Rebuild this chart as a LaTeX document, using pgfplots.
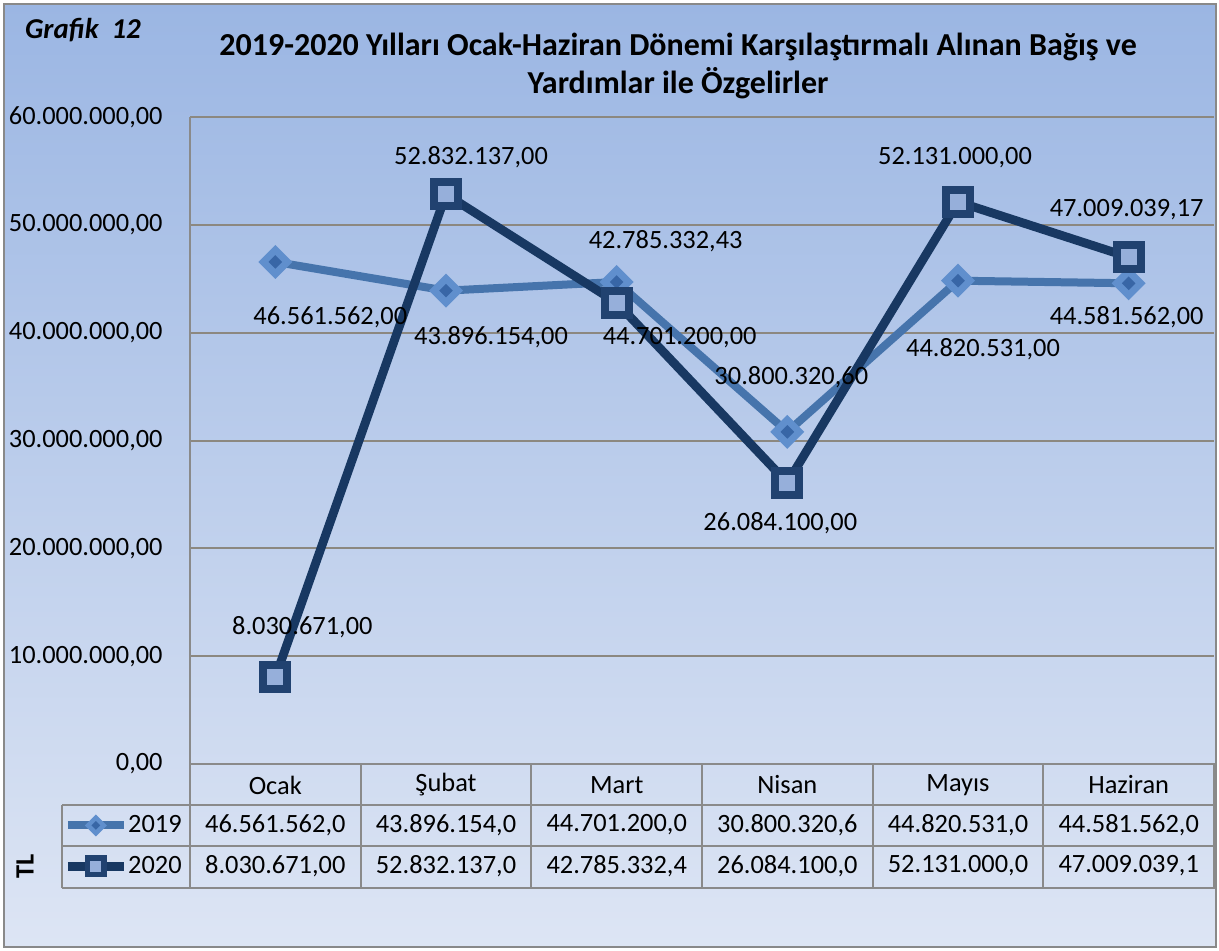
\documentclass[border=0pt]{standalone}
\usepackage{fontspec}
\setmainfont{Carlito}
\usepackage{pgfplots}
\pgfplotsset{compat=1.18}

\definecolor{bgtop}{RGB}{155,182,227}
\definecolor{bgbot}{RGB}{221,229,244}
\definecolor{framec}{RGB}{137,137,137}
\definecolor{gridc}{RGB}{140,136,128}
\definecolor{tblc}{RGB}{138,138,138}
\definecolor{c19}{RGB}{70,116,172}
\definecolor{c20}{RGB}{24,56,98}
\definecolor{diaA}{RGB}{96,143,205}
\definecolor{diaB}{RGB}{56,102,166}
\definecolor{sqA}{RGB}{33,66,112}
\definecolor{sqB}{RGB}{150,175,218}

% diamond with darker centre
\pgfdeclareplotmark{bevdia}{%
  \pgfpathmoveto{\pgfqpoint{0pt}{\pgfplotmarksize}}%
  \pgfpathlineto{\pgfqpoint{\pgfplotmarksize}{0pt}}%
  \pgfpathlineto{\pgfqpoint{0pt}{-\pgfplotmarksize}}%
  \pgfpathlineto{\pgfqpoint{-\pgfplotmarksize}{0pt}}%
  \pgfpathclose
  \pgfsetfillcolor{diaA}\pgfusepathqfill
  \pgfpathmoveto{\pgfqpoint{0pt}{0.4\pgfplotmarksize}}%
  \pgfpathlineto{\pgfqpoint{0.4\pgfplotmarksize}{0pt}}%
  \pgfpathlineto{\pgfqpoint{0pt}{-0.4\pgfplotmarksize}}%
  \pgfpathlineto{\pgfqpoint{-0.4\pgfplotmarksize}{0pt}}%
  \pgfpathclose
  \pgfsetfillcolor{diaB}\pgfusepathqfill
}
% bevelled square
\pgfdeclareplotmark{bevsq}{%
  \pgfpathrectangle{\pgfqpoint{-\pgfplotmarksize}{-\pgfplotmarksize}}{\pgfqpoint{2\pgfplotmarksize}{2\pgfplotmarksize}}%
  \pgfsetfillcolor{sqA}\pgfusepathqfill
  \pgfpathrectangle{\pgfqpoint{-0.5\pgfplotmarksize}{-0.5\pgfplotmarksize}}{\pgfqpoint{\pgfplotmarksize}{\pgfplotmarksize}}%
  \pgfsetfillcolor{sqB}\pgfusepathqfill
}

\newcommand\fs{\fontsize{13.2}{15}\selectfont}

\begin{document}
\begin{tikzpicture}
\begin{scope}[x=0.5pt,y=-0.5pt]
  \useasboundingbox (0,0) rectangle (1219,951);
  \fill[white] (0,0) rectangle (1219,951);
  \shade[top color=bgtop,bottom color=bgbot] (4,4) rectangle (1216,947);
  \draw[framec,line width=1pt] (4,4) rectangle (1216,947);
  \node[font=\bfseries\itshape\fontsize{14.4}{16}\selectfont] at (83,30) {Grafik\ \ 12};
  \node[font=\bfseries\fontsize{16}{18}\selectfont] at (678,47) {2019-2020 Yılları Ocak-Haziran Dönemi Karşılaştırmalı Alınan Bağış ve};
  \node[font=\bfseries\fontsize{16}{18}\selectfont] at (678,83) {Yardımlar ile Özgelirler};
  \node[font=\bfseries\fs,rotate=90] at (25,866) {TL};
\end{scope}

\begin{pgfinterruptboundingbox}
\begin{axis}[
    at={(95pt,-382pt)}, anchor=south west,
    scale only axis, width=512pt, height=323.5pt,
    xmin=0.5, xmax=6.5, ymin=0, ymax=60000000,
    xtick=\empty,
    scaled y ticks=false,
    ytick={0,10000000,20000000,30000000,40000000,50000000,60000000},
    yticklabels={{0,00},{10.000.000,00},{20.000.000,00},{30.000.000,00},{40.000.000,00},{50.000.000,00},{60.000.000,00}},
    yticklabel style={font=\fs,inner sep=0pt,xshift=-13.5pt},
    major tick length=0pt,
    ymajorgrids, grid style={gridc,line width=1pt},
    axis lines*=left, axis line style={tblc,line width=1pt},
    clip=false,
    legend cell align=left,
    legend style={at={(-0.1240,-0.0773)}, anchor=north west, draw=none, fill=none,
      font=\fs, inner sep=0pt, row sep=9.5pt, column sep=0pt,
      nodes={inner sep=0pt}},
    legend image code/.code={\draw[mark repeat=2,mark phase=2,mark size=5.5pt]
      plot coordinates {(0pt,0pt) (14pt,0pt) (28pt,0pt)};},
]
\addplot[c19, line width=4pt, line join=round, mark=bevdia, mark size=8.5pt]
  coordinates {(1,46561562) (2,43896154) (3,44701200) (4,30800320.6) (5,44820531) (6,44581562)};
\addlegendentry{2019}
\addplot[c20, line width=4.4pt, line join=round, mark=bevsq, mark size=8pt]
  coordinates {(1,8030671) (2,52832137) (3,42785332.43) (4,26084100) (5,52131000) (6,47009039.17)};
\addlegendentry{2020}

\tikzset{lab/.style={font=\fs,inner sep=0pt}}
\node[lab,xshift=27.5pt,yshift=-27.5pt] at (axis cs:1,46561562) {46.561.562,00};
\node[lab,xshift=22.5pt,yshift=-23.5pt] at (axis cs:2,43896154) {43.896.154,00};
\node[lab,xshift=31.5pt,yshift=-28pt] at (axis cs:3,44701200) {44.701.200,00};
\node[lab,xshift=2pt,yshift=27.5pt] at (axis cs:4,30800320.6) {30.800.320,60};
\node[lab,xshift=12.5pt,yshift=-34pt] at (axis cs:5,44820531) {44.820.531,00};
\node[lab,xshift=-1pt,yshift=-17pt] at (axis cs:6,44581562) {44.581.562,00};
\node[lab,xshift=13.5pt,yshift=25pt] at (axis cs:1,8030671) {8.030.671,00};
\node[lab,xshift=12.5pt,yshift=18.5pt] at (axis cs:2,52832137) {52.832.137,00};
\node[lab,xshift=24.5pt,yshift=30.5pt] at (axis cs:3,42785332.43) {42.785.332,43};
\node[lab,xshift=-3.5pt,yshift=-20pt] at (axis cs:4,26084100) {26.084.100,00};
\node[lab,xshift=-1.5pt,yshift=22pt] at (axis cs:5,52131000) {52.131.000,00};
\node[lab,xshift=-1pt,yshift=23.5pt] at (axis cs:6,47009039.17) {47.009.039,17};
\end{axis}
\end{pgfinterruptboundingbox}

% data table under the plot
\begin{scope}[x=0.5pt,y=-0.5pt]
  \draw[tblc,line width=1pt] (190,764) -- (1215,764);
  \draw[tblc,line width=1pt] (62,805) -- (1215,805);
  \draw[tblc,line width=1pt] (62,846) -- (1215,846);
  \draw[tblc,line width=1pt] (62,888) -- (1215,888);
  \draw[tblc,line width=1pt] (62,805) -- (62,888);
  \draw[tblc,line width=1pt] (190,117) -- (190,888);
  \foreach \xx in {360.7,531.3,702,872.7,1043.3,1214}
    \draw[tblc,line width=1pt] (\xx,764) -- (\xx,888);
  \tikzset{tt/.style={font=\fs}}
  \node[tt] at (275.3,785) {Ocak};
  \node[tt] at (446,785) {Şubat};
  \node[tt] at (616.7,785) {Mart};
  \node[tt] at (787.3,785) {Nisan};
  \node[tt] at (958,785) {Mayıs};
  \node[tt] at (1128.7,785) {Haziran};
  \node[tt] at (275.3,825) {46.561.562,0};
  \node[tt] at (446,825) {43.896.154,0};
  \node[tt] at (616.7,825) {44.701.200,0};
  \node[tt] at (787.3,825) {30.800.320,6};
  \node[tt] at (958,825) {44.820.531,0};
  \node[tt] at (1128.7,825) {44.581.562,0};
  \node[tt] at (275.3,866) {8.030.671,00};
  \node[tt] at (446,866) {52.832.137,0};
  \node[tt] at (616.7,866) {42.785.332,4};
  \node[tt] at (787.3,866) {26.084.100,0};
  \node[tt] at (958,866) {52.131.000,0};
  \node[tt] at (1128.7,866) {47.009.039,1};
\end{scope}
\end{tikzpicture}
\end{document}
